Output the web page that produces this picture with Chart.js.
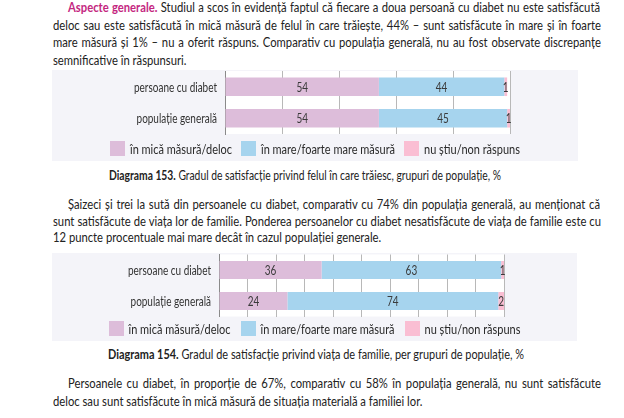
<!DOCTYPE html>
<html><head><meta charset="utf-8">
<script src="https://cdn.jsdelivr.net/npm/chart.js@4/dist/chart.umd.min.js"></script>
<style>
html,body{margin:0;padding:0;background:#fff;width:624px;height:418px;overflow:hidden;}
body{position:relative;font-family:Lato, "Liberation Sans", sans-serif;color:#222222;}
.ln{position:absolute;white-space:nowrap;font-size:12.5px;line-height:16px;transform-origin:0 50%;}
.hl{color:#c4277f;font-weight:bold;}
.panel{position:absolute;background:#f4f4f9;}
.panel canvas{position:absolute;left:0;top:0;}
b{font-weight:bold;}
</style></head><body>

<div class="ln j" style="left:68px;top:0px" data-w="532"><span class="hl">Aspecte generale.</span> Studiul a scos în evidență faptul că fiecare a doua persoană cu diabet nu este satisfăcută</div>
<div class="ln j" style="left:53px;top:17.5px" data-w="548">deloc sau este satisfăcută în mică măsură de felul în care trăiește, 44% – sunt satisfăcute în mare și în foarte</div>
<div class="ln j" style="left:53px;top:35px" data-w="548">mare măsură și 1% – nu a oferit răspuns. Comparativ cu populația generală, nu au fost observate discrepanțe</div>
<div class="ln" style="left:53px;top:52.5px">semnificative în răspunsuri.</div>

<div class="panel" style="left:52px;top:70px;width:526px;height:91px"><canvas id="c1"></canvas></div>

<div class="ln f" style="left:109px;top:168px" data-w="392"><b>Diagrama 153.</b> Gradul de satisfacție privind felul în care trăiesc, grupuri de populație, %</div>

<div class="ln j" style="left:68px;top:197px" data-w="532">Șaizeci și trei la sută din persoanele cu diabet, comparativ cu 74% din populația generală, au menționat că</div>
<div class="ln j" style="left:53px;top:213.5px" data-w="548">sunt satisfăcute de viața lor de familie. Ponderea persoanelor cu diabet nesatisfăcute de viața de familie este cu</div>
<div class="ln" style="left:53px;top:230px">12 puncte procentuale mai mare decât în cazul populației generale.</div>

<div class="panel" style="left:52px;top:253px;width:525px;height:88px"><canvas id="c2"></canvas></div>

<div class="ln f" style="left:108px;top:347px" data-w="416"><b>Diagrama 154.</b> Gradul de satisfacție privind viața de familie, per grupuri de populație, %</div>

<div class="ln j" style="left:68px;top:376px" data-w="533">Persoanele cu diabet, în proporție de 67%, comparativ cu 58% în populația generală, nu sunt satisfăcute</div>
<div class="ln" style="left:53px;top:394px">deloc sau sunt satisfăcute în mică măsură de situația materială a familiei lor.</div>

<script>
// ---- data ----
const categories = ['persoane cu diabet', 'populație generală'];
const seriesNames = ['în mică măsură/deloc', 'în mare/foarte mare măsură', 'nu știu/non răspuns'];
const livingLow = [54, 54];
const livingHigh = [44, 45];
const livingNoAnswer = [1, 1];
const familyLow = [36, 24];
const familyHigh = [63, 74];
const familyNoAnswer = [1, 2];
const livingTickStep = 20;
const familyTickStep = 10;
const axisMin = 0;
const axisMax = 100;

const colors = ['#ddbdda', '#a6d4ee', '#fabed3'];
const FONT = 'Lato, "Liberation Sans", sans-serif';

// ---- text fitting (narrow Calibri-like look) ----
const justified = [...document.querySelectorAll('.j')];
let kBody = 1;
justified.forEach(el => {
  const r = parseFloat(el.dataset.w) / el.getBoundingClientRect().width;
  kBody = Math.min(kBody, r);
});
kBody *= 0.995;
document.querySelectorAll('.ln').forEach(el => {
  if (el.classList.contains('f')) {
    const k = parseFloat(el.dataset.w) / el.getBoundingClientRect().width;
    el.style.transform = 'scaleX(' + k + ')';
    return;
  }
  if (el.classList.contains('j')) {
    const target = parseFloat(el.dataset.w) / kBody;
    const nat = el.getBoundingClientRect().width;
    const spaces = (el.textContent.match(/ /g) || []).length;
    if (spaces) el.style.wordSpacing = ((target - nat) / spaces) + 'px';
  }
  el.style.transform = 'scaleX(' + kBody + ')';
});

// canvas text compression
const mctx = document.createElement('canvas').getContext('2d');
function widthOf(txt, font) { mctx.font = font; return mctx.measureText(txt).width; }
const LABEL_FONT = '12.5px ' + FONT;
const kLabel = 83 / widthOf(categories[0], LABEL_FONT);
const kLegend = 102 / widthOf(seriesNames[0], LABEL_FONT);

function drawSquished(ctx, txt, x, y, align, k) {
  ctx.save();
  ctx.translate(x, y);
  ctx.scale(k, 1);
  ctx.textAlign = align;
  ctx.fillText(txt, 0, 0);
  ctx.restore();
}

const bgPlugin = {
  id: 'plotBg',
  beforeDraw(chart) {
    const a = chart.chartArea, ctx = chart.ctx;
    ctx.save(); ctx.fillStyle = '#ffffff';
    ctx.fillRect(a.left, a.top, a.right - a.left, a.bottom - a.top);
    ctx.restore();
  }
};

const catLabels = {
  id: 'catLabels',
  afterDraw(chart) {
    const ctx = chart.ctx, ys = chart.scales.y;
    ctx.save();
    ctx.font = LABEL_FONT;
    ctx.fillStyle = '#333333';
    ctx.textBaseline = 'middle';
    chart.data.labels.forEach((lab, i) => {
      drawSquished(ctx, lab, chart.chartArea.left - 8, ys.getPixelForValue(i) + 1, 'right', kLabel);
    });
    ctx.restore();
  }
};

const valueLabels = {
  id: 'valueLabels',
  afterDatasetsDraw(chart) {
    const ctx = chart.ctx;
    ctx.save();
    ctx.font = LABEL_FONT;
    ctx.fillStyle = '#3a3a3a';
    ctx.textBaseline = 'middle';
    chart.data.datasets.forEach((ds, di) => {
      const meta = chart.getDatasetMeta(di);
      meta.data.forEach((el, i) => {
        drawSquished(ctx, String(ds.data[i]), (el.x + el.base) / 2, el.y + 1, 'center', kLabel);
      });
    });
    ctx.restore();
  }
};

const docLegend = {
  id: 'docLegend',
  afterDraw(chart, args, o) {
    const ctx = chart.ctx;
    ctx.save();
    ctx.font = LABEL_FONT;
    const ds = chart.data.datasets;
    const widths = ds.map(d => ctx.measureText(d.label).width * kLegend);
    let total = 0;
    widths.forEach((w, i) => { total += o.box + o.gapText + w + (i < ds.length - 1 ? o.gapItem : 0); });
    let x = chart.width / 2 - total / 2;
    ctx.textBaseline = 'middle';
    ds.forEach((d, i) => {
      ctx.fillStyle = d.backgroundColor;
      ctx.fillRect(Math.round(x), o.y - o.box / 2, o.box, o.box);
      ctx.fillStyle = '#2a2a2a';
      drawSquished(ctx, d.label, x + o.box + o.gapText, o.y + 1, 'left', kLegend);
      x += o.box + o.gapText + widths[i] + o.gapItem;
    });
    ctx.restore();
  }
};

function makeChart(id, w, h, low, high, na, step, cfg) {
  const cv = document.getElementById(id);
  cv.width = w; cv.height = h;
  cv.style.width = w + 'px'; cv.style.height = h + 'px';
  return new Chart(cv, {
    type: 'bar',
    data: {
      labels: categories,
      datasets: [low, high, na].map((d, i) => ({
        label: seriesNames[i], data: d, backgroundColor: colors[i],
        borderWidth: 0, barPercentage: 1, categoryPercentage: cfg.catPct
      }))
    },
    options: {
      indexAxis: 'y',
      responsive: false,
      animation: false,
      devicePixelRatio: 1,
      layout: { autoPadding: false, padding: { top: cfg.padTop, bottom: cfg.padBottom, left: 0, right: 0 } },
      plugins: {
        legend: { display: false },
        tooltip: { enabled: false },
        docLegend: { box: 15, gapText: 5, gapItem: cfg.gapItem, y: cfg.legendY }
      },
      scales: {
        x: {
          type: 'linear', stacked: true, min: axisMin, max: axisMax,
          ticks: { display: false, stepSize: step },
          grid: { color: '#b8b8b8', drawTicks: false, lineWidth: 1 },
          border: { display: false },
          afterFit(s) { s.height = 0; }
        },
        y: {
          type: 'category', stacked: true,
          ticks: { display: false },
          grid: { display: false, drawTicks: false },
          border: { display: true, color: '#8a8a8a', width: 1 },
          afterFit(s) { s.width = cfg.leftW; }
        },
        r: {
          type: 'linear', position: 'right', display: true,
          ticks: { display: false }, grid: { display: false, drawTicks: false },
          border: { display: false },
          afterFit(s) { s.width = cfg.rightW; }
        }
      }
    },
    plugins: [bgPlugin, valueLabels, catLabels, docLegend]
  });
}

makeChart('c1', 526, 91, livingLow, livingHigh, livingNoAnswer, livingTickStep,
  { catPct: 0.59, padTop: 1, padBottom: 27, leftW: 173, rightW: 68, gapItem: 9, legendY: 78.5 });
makeChart('c2', 525, 88, familyLow, familyHigh, familyNoAnswer, familyTickStep,
  { catPct: 0.58, padTop: 1.5, padBottom: 24.5, leftW: 167, rightW: 73, gapItem: 10, legendY: 75.5 });
</script>
</body></html>
